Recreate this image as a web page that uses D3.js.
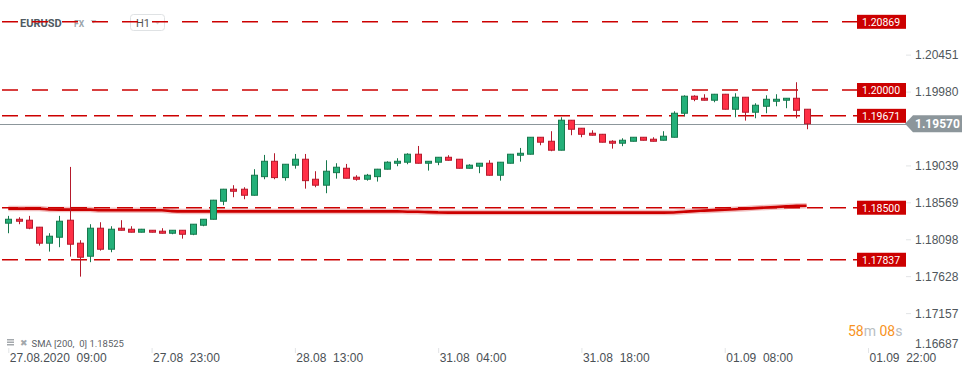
<!DOCTYPE html>
<html>
<head>
<meta charset="utf-8">
<script src="https://cdn.jsdelivr.net/npm/d3@7"></script>
<style>
  html, body { margin: 0; padding: 0; background: #fff; }
  svg { display: block; font-family: Roboto, "Noto Sans", sans-serif; }
</style>
</head>
<body>
<svg id="chart" width="974" height="375"></svg>
<script>
// EURUSD H1 candles, 27.08.2020 09:00 .. 01.09.2020 16:00
const openPrices = [
  1.18303, 1.18353, 1.18341, 1.18252, 1.18048, 1.18124, 1.18341, 1.18048, 1.17882, 1.18239,
  1.17971, 1.18239, 1.18226, 1.18188, 1.18213, 1.18201, 1.18175, 1.18213, 1.18162, 1.18277,
  1.18353, 1.18583, 1.18736, 1.18736, 1.18659, 1.18896, 1.19092, 1.18884, 1.19042, 1.19118,
  1.18863, 1.18787, 1.18947, 1.19003, 1.18889, 1.18863, 1.18896, 1.18991, 1.19067, 1.19080,
  1.19182, 1.19067, 1.19080, 1.19143, 1.19118, 1.19003, 1.19029, 1.19067, 1.18914, 1.19067,
  1.19169, 1.19182, 1.19398, 1.19347, 1.19233, 1.19615, 1.19513, 1.19449, 1.19436, 1.19347,
  1.19322, 1.19347, 1.19398, 1.19373, 1.19360, 1.19398, 1.19704, 1.19921, 1.19895, 1.19870,
  1.19946, 1.19755, 1.19908, 1.19717, 1.19793, 1.19857, 1.19870, 1.19895, 1.19755
];
const highPrices = [
  1.18396, 1.18379, 1.18396, 1.18255, 1.18175, 1.18396, 1.19020, 1.18086, 1.18290, 1.18315,
  1.18264, 1.18341, 1.18264, 1.18230, 1.18216, 1.18239, 1.18216, 1.18216, 1.18292, 1.18355,
  1.18600, 1.18740, 1.18787, 1.18761, 1.18991, 1.19173, 1.19194, 1.19056, 1.19185, 1.19185,
  1.18965, 1.19105, 1.19067, 1.19058, 1.18914, 1.18931, 1.18995, 1.19092, 1.19131, 1.19194,
  1.19287, 1.19095, 1.19146, 1.19169, 1.19121, 1.19054, 1.19070, 1.19105, 1.19083, 1.19185,
  1.19262, 1.19400, 1.19400, 1.19475, 1.19653, 1.19618, 1.19516, 1.19487, 1.19440, 1.19360,
  1.19385, 1.19400, 1.19400, 1.19398, 1.19475, 1.19729, 1.19933, 1.19933, 1.19946, 1.19950,
  1.19950, 1.19959, 1.19911, 1.19831, 1.19933, 1.19946, 1.19898, 1.20099, 1.19758
];
const lowPrices = [
  1.18175, 1.18290, 1.18226, 1.18017, 1.17941, 1.17997, 1.17877, 1.17622, 1.17806, 1.17953,
  1.17933, 1.18210, 1.18185, 1.18185, 1.18185, 1.18172, 1.18162, 1.18106, 1.18150, 1.18264,
  1.18350, 1.18532, 1.18634, 1.18608, 1.18655, 1.18863, 1.18863, 1.18845, 1.18998, 1.18743,
  1.18761, 1.18685, 1.18871, 1.18873, 1.18845, 1.18845, 1.18833, 1.18988, 1.19029, 1.19054,
  1.19064, 1.18973, 1.19042, 1.19100, 1.19000, 1.19000, 1.18940, 1.18910, 1.18845, 1.19064,
  1.19087, 1.19178, 1.19296, 1.19220, 1.19230, 1.19424, 1.19398, 1.19420, 1.19332, 1.19253,
  1.19284, 1.19344, 1.19357, 1.19344, 1.19357, 1.19395, 1.19666, 1.19857, 1.19867, 1.19844,
  1.19752, 1.19653, 1.19610, 1.19640, 1.19704, 1.19793, 1.19768, 1.19640, 1.19500
];
const closePrices = [
  1.18353, 1.18328, 1.18239, 1.18048, 1.18137, 1.18328, 1.18035, 1.17869, 1.18239, 1.17971,
  1.18226, 1.18213, 1.18188, 1.18226, 1.18188, 1.18175, 1.18213, 1.18162, 1.18290, 1.18353,
  1.18596, 1.18736, 1.18710, 1.18659, 1.18914, 1.19092, 1.18884, 1.19054, 1.19118, 1.18845,
  1.18787, 1.18965, 1.19016, 1.18876, 1.18863, 1.18914, 1.18991, 1.19080, 1.19092, 1.19182,
  1.19067, 1.19092, 1.19143, 1.19105, 1.19003, 1.19042, 1.19067, 1.18914, 1.19080, 1.19182,
  1.19194, 1.19398, 1.19335, 1.19233, 1.19615, 1.19500, 1.19436, 1.19424, 1.19335, 1.19322,
  1.19360, 1.19398, 1.19360, 1.19347, 1.19411, 1.19704, 1.19921, 1.19882, 1.19870, 1.19946,
  1.19755, 1.19908, 1.19717, 1.19806, 1.19882, 1.19882, 1.19895, 1.19742, 1.19570
];
// SMA 200
const smaValues = [
  1.18489, 1.18489, 1.18489, 1.18489, 1.18478, 1.18476, 1.18476, 1.18476, 1.18476, 1.18468,
  1.18468, 1.18468, 1.18468, 1.18468, 1.18468, 1.18468, 1.18457, 1.18453, 1.18453, 1.18453,
  1.18453, 1.18453, 1.18453, 1.18453, 1.18453, 1.18453, 1.18453, 1.18453, 1.18453, 1.18453,
  1.18453, 1.18453, 1.18453, 1.18453, 1.18453, 1.18453, 1.18453, 1.18453, 1.18453, 1.18449,
  1.18449, 1.18444, 1.18440, 1.18438, 1.18438, 1.18438, 1.18438, 1.18438, 1.18438, 1.18438,
  1.18438, 1.18438, 1.18438, 1.18438, 1.18438, 1.18438, 1.18438, 1.18438, 1.18438, 1.18438,
  1.18438, 1.18438, 1.18438, 1.18438, 1.18438, 1.18440, 1.18449, 1.18457, 1.18463, 1.18469,
  1.18475, 1.18481, 1.18487, 1.18495, 1.18503, 1.18510, 1.18517, 1.18523, 1.18525
];

const timeTicks = [0, 14, 28, 42, 56, 70, 84];
const timeLabels = ["27.08.2020  09:00", "27.08  23:00", "28.08  13:00", "31.08  04:00",
                    "31.08  18:00", "01.09  08:00", "01.09  22:00"];
const priceTicks = [1.20451, 1.19980, 1.19039, 1.18569, 1.18098, 1.17628, 1.17157, 1.16687];
const levelPrices = [1.20869, 1.20000, 1.19671, 1.18500, 1.17837];
const lastPrice = 1.19570;
const smaLabel = "SMA [200,  0] 1.18525";

const svg = d3.select("#chart");

const x = d3.scaleLinear().domain([0, 84]).range([8.3, 868]);
const y = d3.scaleLinear().domain([1.16687, 1.21147]).range([350, 0]);

const candles = openPrices.map((o, i) => ({
  i, o, h: highPrices[i], l: lowPrices[i], c: closePrices[i]
}));

// header
const head = svg.append("g");
head.append("text").attr("x", 20).attr("y", 27).text("EURUSD")
  .attr("font-size", 11).attr("font-weight", 700).attr("fill", "#4f5a62");
head.append("text").attr("x", 74).attr("y", 27).text("FX")
  .attr("font-size", 8.5).attr("font-weight", 700).attr("fill", "#9aa4ab");
head.append("path").attr("d", "M90.5,20 L96.5,20 L93.5,23.5 Z").attr("fill", "#c4c8cb");
head.append("rect").attr("x", 130.5).attr("y", 14.5).attr("width", 34).attr("height", 16)
  .attr("rx", 3).attr("fill", "#fff").attr("stroke", "#dfe2e4");
head.append("text").attr("x", 136).attr("y", 27).text("H1")
  .attr("font-size", 11).attr("fill", "#555");
head.append("path").attr("d", "M154.5,21 L160.5,21 L157.5,24.5 Z").attr("fill", "#d2d5d7");

// horizontal levels
svg.append("g").selectAll("line").data(levelPrices).join("line")
  .attr("x1", 2).attr("x2", 857)
  .attr("y1", d => y(d)).attr("y2", d => y(d))
  .attr("stroke", "#cc0000").attr("stroke-width", 1.5)
  .attr("stroke-dasharray", (d, i) => i < 2 ? "16,14" : "16,7");

// current price line
svg.append("line").attr("x1", 0).attr("x2", 906)
  .attr("y1", Math.round(y(lastPrice)) + 0.5).attr("y2", Math.round(y(lastPrice)) + 0.5)
  .attr("stroke", "#8c969b").attr("stroke-width", 1);

// SMA
const smaLine = d3.line().x((d, i) => x(i)).y(d => y(d)).curve(d3.curveMonotoneX);
svg.append("path").datum(smaValues).attr("d", smaLine)
  .attr("fill", "none").attr("stroke", "rgba(204,0,0,0.25)").attr("stroke-width", 5.5);
svg.append("path").datum(smaValues).attr("d", smaLine)
  .attr("fill", "none").attr("stroke", "#cc0000").attr("stroke-width", 2.6);

// candles
const cg = svg.append("g").selectAll("g").data(candles).join("g");
cg.append("line")
  .attr("x1", d => Math.round(x(d.i)) + 0.5).attr("x2", d => Math.round(x(d.i)) + 0.5)
  .attr("y1", d => y(d.h)).attr("y2", d => y(d.l))
  .attr("stroke", d => d.c >= d.o ? "#17784d" : "#b51a2c");
cg.append("rect")
  .attr("x", d => Math.round(x(d.i)) - 2.5).attr("width", 6)
  .attr("y", d => y(Math.max(d.o, d.c)))
  .attr("height", d => Math.max(1, y(Math.min(d.o, d.c)) - y(Math.max(d.o, d.c))))
  .attr("fill", d => d.c >= d.o ? "#24b079" : "#ff3046")
  .attr("stroke", d => d.c >= d.o ? "#17784d" : "#b51a2c");

// y axis
const yAxis = svg.append("g").attr("transform", "translate(906,0)")
  .call(d3.axisRight(y).tickValues(priceTicks).tickFormat(d3.format(".5f"))
    .tickSize(5).tickPadding(4));
yAxis.select(".domain").remove();
yAxis.selectAll("line").attr("stroke", "#e2e4e6");
yAxis.selectAll("text").attr("font-size", 12).attr("fill", "#50575c")
  .attr("font-family", null).attr("dy", "0.35em");
yAxis.selectAll(".tick").filter(d => d === 1.16687)
  .call(t => t.select("line").remove())
  .select("text").attr("y", -7);

// x axis
const xAxis = svg.append("g").attr("transform", "translate(0,348)")
  .call(d3.axisBottom(x).tickValues(timeTicks).tickFormat((d, i) => timeLabels[i])
    .tickSize(5).tickPadding(0));
xAxis.select(".domain").remove();
xAxis.selectAll("line").attr("stroke", "#e2e4e6");
xAxis.selectAll("text").attr("font-size", 12).attr("fill", "#4a5055")
  .attr("font-family", null).attr("text-anchor", "start").attr("x", 1)
  .style("white-space", "pre");

// level tags
const tags = svg.append("g").selectAll("g").data(levelPrices).join("g")
  .attr("transform", d => `translate(857,${y(d)})`);
tags.append("rect").attr("x", 0).attr("y", -7).attr("width", 49).attr("height", 14)
  .attr("fill", "#cc0000");
tags.append("text").attr("x", 5).attr("dy", "0.36em")
  .attr("font-size", 10.5).attr("fill", "#fff")
  .text(d => d3.format(".5f")(d));

// current price tag
const yc = y(lastPrice);
svg.append("path")
  .attr("d", `M905,${yc} L913,${yc - 8.5} L962,${yc - 8.5} L962,${yc + 8.5} L913,${yc + 8.5} Z`)
  .attr("fill", "#8c969b");
svg.append("text").attr("x", 915).attr("y", yc).attr("dy", "0.36em")
  .attr("font-size", 12).attr("font-weight", 700).attr("fill", "#fff")
  .text(d3.format(".5f")(lastPrice));

// countdown
const timer = svg.append("text").attr("x", 848).attr("y", 336).attr("font-size", 14);
timer.append("tspan").attr("fill", "#f7931e").text("58");
timer.append("tspan").attr("fill", "#b9bec2").text("m ");
timer.append("tspan").attr("fill", "#f7931e").text("08");
timer.append("tspan").attr("fill", "#b9bec2").text("s");

// indicator legend
const lg = svg.append("g").attr("fill", "#a3a8ac");
lg.append("rect").attr("x", 7).attr("y", 339).attr("width", 7).attr("height", 1.5);
lg.append("rect").attr("x", 7).attr("y", 341.5).attr("width", 7).attr("height", 1.5);
lg.append("rect").attr("x", 7).attr("y", 344).attr("width", 7).attr("height", 1.5);
lg.append("text").attr("x", 19.5).attr("y", 346).attr("font-size", 9).text("✖");
lg.append("text").attr("x", 31.5).attr("y", 346.5).attr("font-size", 9.5)
  .attr("fill", "#5b6166").style("white-space", "pre").text(smaLabel);
</script>
</body>
</html>
